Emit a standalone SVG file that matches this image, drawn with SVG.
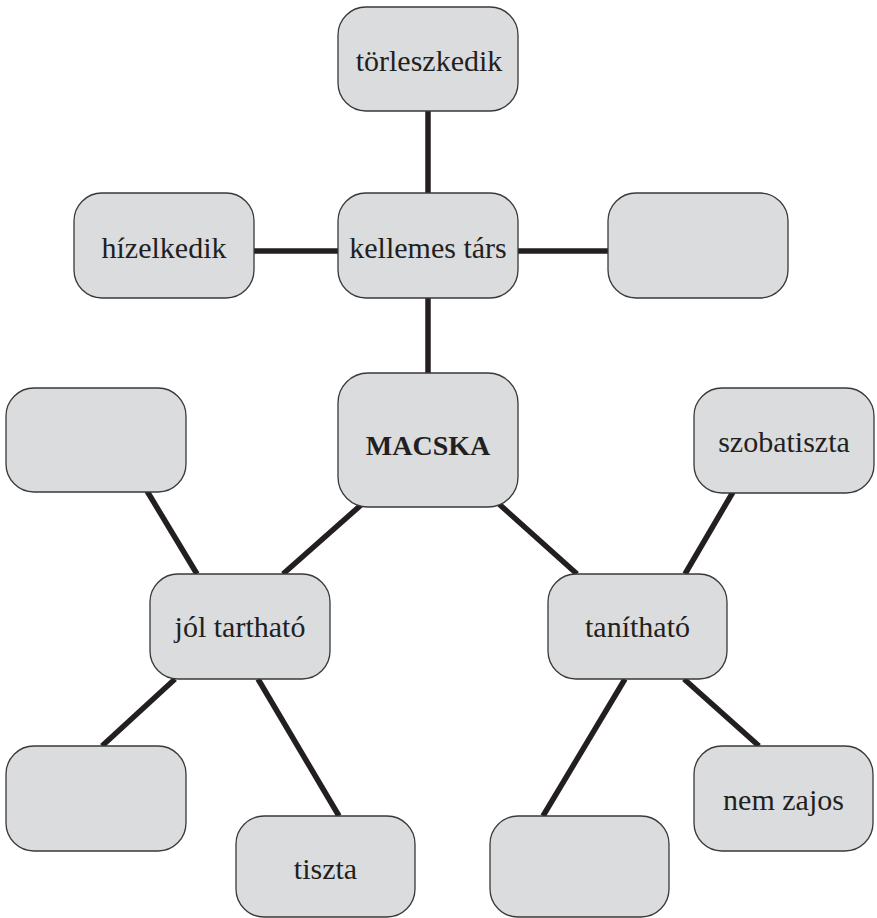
<svg xmlns="http://www.w3.org/2000/svg" width="877" height="918" viewBox="0 0 877 918">
<style>
.box{fill:#dbdcde;stroke:#3a3839;stroke-width:1.3}
.lbl{font-family:"Liberation Serif","Times New Roman",serif;font-size:30px;fill:#231f20;text-anchor:middle}
.bold{font-weight:bold;font-size:28px}
.con line{stroke:#231f20;stroke-width:5.5;stroke-linecap:butt}
</style>
<rect width="877" height="918" fill="#ffffff"/>
<g id="connectors" class="con">
<line x1="428" y1="111" x2="428" y2="193"/>
<line x1="428" y1="298" x2="428" y2="373"/>
<line x1="254" y1="251" x2="338" y2="251"/>
<line x1="518" y1="251" x2="608" y2="251"/>
<line x1="361" y1="505" x2="283" y2="574"/>
<line x1="499" y1="504" x2="577" y2="574"/>
<line x1="147" y1="491" x2="197" y2="574"/>
<line x1="733" y1="492" x2="685" y2="574"/>
<line x1="175" y1="679" x2="102" y2="746"/>
<line x1="258" y1="679" x2="339" y2="816"/>
<line x1="625" y1="679" x2="543" y2="816"/>
<line x1="684" y1="679" x2="759" y2="746"/>
</g>
<g id="n-torleszkedik"><rect class="box" x="338" y="7" width="180" height="104" rx="28"/><text class="lbl" x="429" y="71">törleszkedik</text></g>
<g id="n-kellemes"><rect class="box" x="338" y="193" width="180" height="105" rx="28"/><text class="lbl" x="428" y="258">kellemes társ</text></g>
<g id="n-hizelkedik"><rect class="box" x="74" y="193" width="180" height="105" rx="28"/><text class="lbl" x="164" y="258">hízelkedik</text></g>
<g id="n-empty-right"><rect class="box" x="608" y="193" width="180" height="105" rx="28"/></g>
<g id="n-macska"><rect class="box" x="338" y="373" width="180" height="134" rx="30"/><text class="lbl bold" x="428" y="455">MACSKA</text></g>
<g id="n-empty-left"><rect class="box" x="6" y="388" width="180" height="104" rx="28"/></g>
<g id="n-szobatiszta"><rect class="box" x="694" y="388" width="180" height="105" rx="28"/><text class="lbl" x="784" y="452">szobatiszta</text></g>
<g id="n-jol"><rect class="box" x="150" y="574" width="180" height="105" rx="28"/><text class="lbl" x="240" y="637">jól tartható</text></g>
<g id="n-tanithato"><rect class="box" x="548" y="574" width="179" height="105" rx="28"/><text class="lbl" x="637.5" y="637">tanítható</text></g>
<g id="n-empty-bl"><rect class="box" x="6" y="746" width="180" height="105" rx="28"/></g>
<g id="n-tiszta"><rect class="box" x="236" y="816" width="179" height="101" rx="28"/><text class="lbl" x="325.5" y="879">tiszta</text></g>
<g id="n-empty-bottom"><rect class="box" x="490" y="816" width="179" height="101" rx="28"/></g>
<g id="n-nemzajos"><rect class="box" x="694" y="746" width="179" height="105" rx="28"/><text class="lbl" x="783.5" y="810">nem zajos</text></g>
</svg>
